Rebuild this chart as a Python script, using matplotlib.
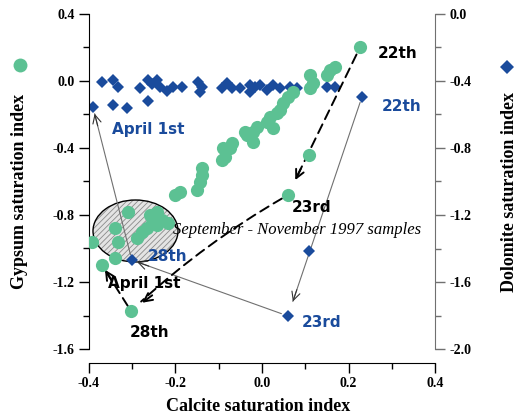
import numpy as np
import matplotlib
matplotlib.use("Agg")
import matplotlib.pyplot as plt
from matplotlib.patches import Ellipse
from matplotlib.lines import Line2D
from matplotlib.ticker import MultipleLocator, FormatStrFormatter

plt.rcParams["axes.unicode_minus"] = False
plt.rcParams["hatch.linewidth"] = 0.6

green = "#5cc193"
blue = "#1a4b9c"
grey = "#707070"

# gypsum saturation index (left axis) against calcite saturation index
gyp_calcite = [0.227, 0.169, 0.157, 0.150, 0.111, 0.118, 0.111, 0.072, 0.060, 0.049,
               0.042, 0.035, 0.018, 0.012, 0.025, -0.012, -0.021, -0.039, -0.035, -0.021,
               -0.069, -0.074, -0.090, -0.085, -0.092, -0.139, -0.139, -0.143, -0.150, -0.190,
               -0.201, -0.310, -0.259, -0.243, -0.231, -0.254, -0.277, -0.217, -0.266, -0.340,
               -0.333, -0.393, -0.340, -0.370, -0.303, 0.060, 0.109, -0.243, -0.289]
gyp_si = [0.203, 0.084, 0.066, 0.036, 0.036, -0.012, -0.042, -0.066, -0.096, -0.131,
          -0.173, -0.191, -0.215, -0.245, -0.281, -0.275, -0.305, -0.305, -0.323, -0.364,
          -0.370, -0.400, -0.400, -0.454, -0.472, -0.519, -0.561, -0.603, -0.651, -0.663,
          -0.681, -0.782, -0.800, -0.782, -0.830, -0.848, -0.901, -0.848, -0.878, -0.878,
          -0.961, -0.961, -1.057, -1.099, -1.373, -0.681, -0.442, -0.860, -0.937]

# dolomite saturation index (right axis) against calcite saturation index
dol_calcite = [-0.370, -0.345, -0.333, -0.282, -0.264, -0.254, -0.243, -0.236, -0.220, -0.206,
               -0.185, -0.148, -0.139, -0.143, -0.093, -0.081, -0.069, -0.051, -0.028, -0.028,
               -0.016, -0.005, 0.012, 0.025, 0.042, 0.065, 0.081, 0.150, 0.169,
               -0.391, -0.345, -0.312, -0.264, 0.231, 0.109, 0.060, -0.301]
dol_si = [-0.406, -0.394, -0.436, -0.442, -0.394, -0.418, -0.394, -0.436, -0.460, -0.436,
          -0.436, -0.406, -0.436, -0.466, -0.442, -0.412, -0.442, -0.442, -0.424, -0.466,
          -0.436, -0.424, -0.454, -0.424, -0.442, -0.436, -0.442, -0.436, -0.436,
          -0.555, -0.543, -0.561, -0.519, -0.496, -1.415, -1.803, -1.469]

# labelled samples in order: 22th, 23rd, 28th, April 1st
gyp_path_x = [0.227, 0.060, -0.303, -0.370]
gyp_path_y = [0.203, -0.681, -1.373, -1.099]
dol_path_x = [0.231, 0.060, -0.301, -0.391]
dol_path_y = [-0.496, -1.803, -1.469, -0.555]
date_labels = ["22th", "23rd", "28th", "April 1st"]

fig = plt.figure(figsize=(5.27, 4.19), dpi=100)
ax1 = fig.add_axes([89 / 527, 1 - 349 / 419, 346 / 527, 335 / 419])
ax2 = ax1.twinx()
ax1.set_zorder(2)
ax2.set_zorder(1)
ax1.patch.set_visible(False)

ax1.set_xlim(-0.4, 0.4)
ax1.set_ylim(-1.6, 0.4)
ax2.set_ylim(-2.0, 0.0)

serif = "Liberation Serif"

for s in ["top", "right"]:
    ax1.spines[s].set_visible(False)
for s in ["top", "left", "bottom"]:
    ax2.spines[s].set_visible(False)
ax1.spines["bottom"].set_position(("outward", 10))
ax2.spines["right"].set_color(grey)

ax1.xaxis.set_major_locator(MultipleLocator(0.2))
ax1.xaxis.set_minor_locator(MultipleLocator(0.1))
ax1.yaxis.set_major_locator(MultipleLocator(0.4))
ax1.yaxis.set_minor_locator(MultipleLocator(0.2))
ax2.yaxis.set_major_locator(MultipleLocator(0.4))
ax2.yaxis.set_minor_locator(MultipleLocator(0.2))
for ax in (ax1, ax2):
    ax.xaxis.set_major_formatter(FormatStrFormatter("%.1f"))
    ax.yaxis.set_major_formatter(FormatStrFormatter("%.1f"))
    ax.tick_params(which="major", direction="out", length=7, width=1)
    ax.tick_params(which="minor", direction="out", length=4, width=1)
    for lab in ax.get_xticklabels() + ax.get_yticklabels():
        lab.set_fontfamily(serif)
        lab.set_fontweight("bold")
        lab.set_fontsize(10)
ax2.tick_params(axis="y", which="both", color=grey)

ax1.set_xlabel("Calcite saturation index", fontfamily=serif, fontweight="bold", fontsize=13)
ax1.set_ylabel("Gypsum saturation index", fontfamily=serif, fontweight="bold", fontsize=13)
ax2.set_ylabel("Dolomite saturation index", fontfamily=serif, fontweight="bold", fontsize=13)
ax1.xaxis.set_label_coords(0.488, -0.145)
ax1.yaxis.set_label_coords(-0.175, 0.47)
ax2.yaxis.set_label_coords(1.19, 0.47)

# shaded cluster of autumn samples
ell_c = (-0.2925, -1.2955)
ax2.add_patch(Ellipse(ell_c, 0.1965, 0.37, facecolor="#e4e4e4", edgecolor="#8a8a8a",
                      hatch="//////", lw=0, zorder=1))
ax2.add_patch(Ellipse(ell_c, 0.1965, 0.37, fill=False, edgecolor="black", lw=1.0, zorder=2))

ax2.plot(dol_calcite, dol_si, "D", color=blue, ms=6.5, mew=0, zorder=4)
ax1.plot(gyp_calcite, gyp_si, "o", color=green, ms=9.5, mew=0, zorder=4)


def arrow(ax, p0, p1, color, lw, ls, sa, sb, rad=0.0, head_color="black"):
    ax.annotate("", xy=p1, xytext=p0,
                arrowprops=dict(arrowstyle="-", color=color, lw=lw, linestyle=ls,
                                shrinkA=sa, shrinkB=sb,
                                connectionstyle=f"arc3,rad={rad}"), zorder=3)
    a = ax.transData.transform(p0)
    b = ax.transData.transform(p1)
    d = (a - b) / np.hypot(*(a - b))
    off = (sb + 9) * d
    ax.annotate("", xy=p1, xytext=(off[0], off[1]), textcoords="offset points",
                arrowprops=dict(arrowstyle="->,head_length=0.6,head_width=0.3",
                                color=head_color, lw=lw, shrinkA=0, shrinkB=sb),
                zorder=3)


dash = (0, (5, 3))
gp = list(zip(gyp_path_x, gyp_path_y))
arrow(ax1, gp[0], gp[1], "black", 1.4, dash, 6, 12)
arrow(ax1, gp[1], gp[2], "black", 1.4, dash, 5, 10, rad=0.06)
arrow(ax1, gp[2], gp[3], "black", 1.4, dash, 4, 4)

dp = list(zip(dol_path_x, dol_path_y))
arrow(ax2, dp[0], dp[1], grey, 0.8, "-", 4, 11, head_color="#333333")
arrow(ax2, dp[1], dp[2], grey, 0.8, "-", 5, 4, head_color="#333333")
arrow(ax2, dp[2], dp[3], grey, 0.8, "-", 4, 5, head_color="#333333")

lab_font = dict(family="DejaVu Sans", weight="bold", size=11, va="center", ha="left", zorder=5)
black_pos = [(0.268, 0.167), (0.069, -0.758), (-0.305, -1.499), (-0.356, -1.206)]
blue_pos = [(0.277, -0.155), (0.092, -1.439), (-0.264, -1.045), (-0.347, -0.292)]
for txt, bp, up in zip(date_labels, black_pos, blue_pos):
    ax1.text(bp[0], bp[1], txt, color="black", **lab_font)
    ax1.text(up[0], up[1], txt, color=blue, **lab_font)

ax1.text(-0.206, -0.89, "September - November 1997 samples", family=serif,
         style="italic", size=12, va="center", ha="left", zorder=5)

# marker keys beside the axis titles
fig.add_artist(Line2D([20 / 527], [1 - 65 / 419], marker="o", color=green, ms=10, mew=0))
fig.add_artist(Line2D([507 / 527], [1 - 67 / 419], marker="D", color=blue, ms=7, mew=0))

fig.savefig("out.png", dpi=100)
